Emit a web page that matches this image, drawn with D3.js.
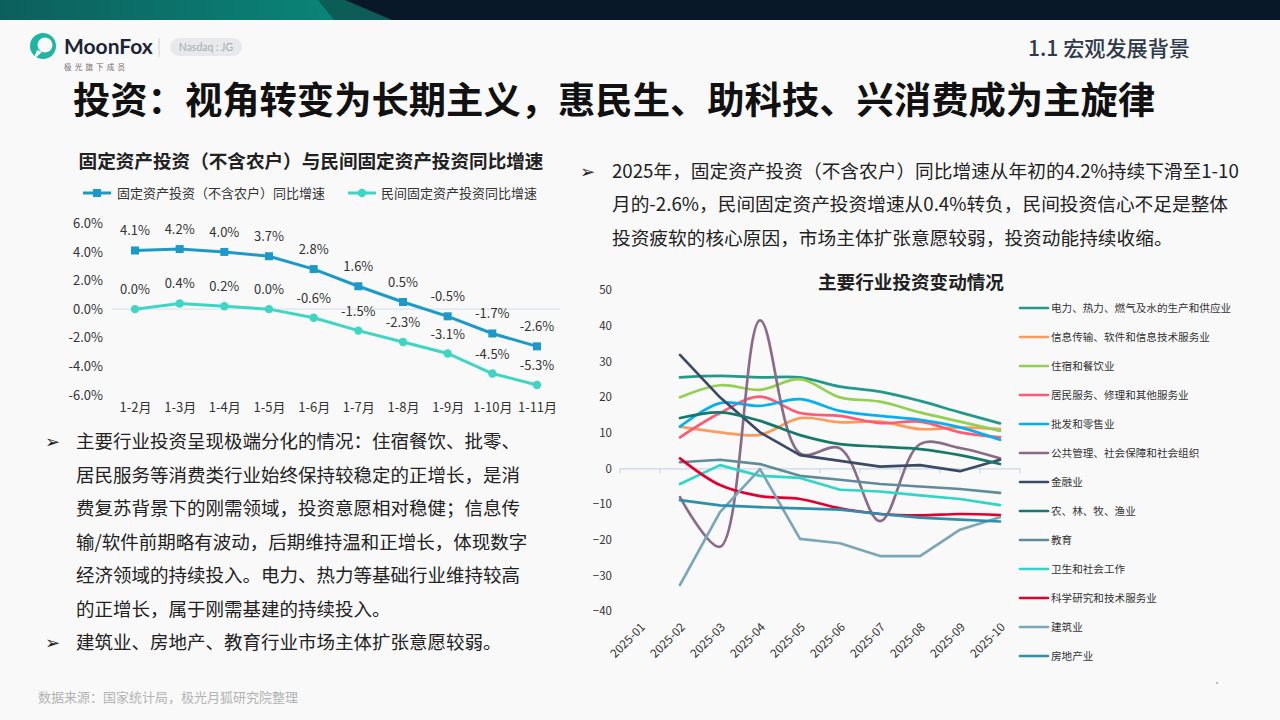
<!DOCTYPE html>
<html>
<head>
<meta charset="utf-8">
<script src="https://cdn.jsdelivr.net/npm/d3@7/dist/d3.min.js"></script>
<style>
  html,body{margin:0;padding:0;background:#f9f9f9;}
  svg{display:block;font-family:"Noto Sans CJK SC","Noto Sans",sans-serif;}
</style>
</head>
<body>
<svg id="page" width="1280" height="720"></svg>
<script>
// ---- left chart data ----
const periods = ["1-2月","1-3月","1-4月","1-5月","1-6月","1-7月","1-8月","1-9月","1-10月","1-11月"];
const fixedInvest = [4.1,4.2,4.0,3.7,2.8,1.6,0.5,-0.5,-1.7,-2.6];
const privateInvest = [0.0,0.4,0.2,0.0,-0.6,-1.5,-2.3,-3.1,-4.5,-5.3];
const leftTicks = [-6,-4,-2,0,2,4,6];

// ---- right chart data ----
const months = ["2025-01","2025-02","2025-03","2025-04","2025-05","2025-06","2025-07","2025-08","2025-09","2025-10"];
const industries = ["电力、热力、燃气及水的生产和供应业","信息传输、软件和信息技术服务业","住宿和餐饮业","居民服务、修理和其他服务业","批发和零售业","公共管理、社会保障和社会组织","金融业","农、林、牧、渔业","教育","卫生和社会工作","科学研究和技术服务业","建筑业","房地产业"];
// values from 2025-02 to 2025-10 (2025-01 is empty)
const power     = [25.5,25.9,25.5,25.5,22.9,21.5,18.9,15.7,12.6];
const infoTech  = [11.7,10.1,9.4,14.1,12.9,13.1,11.0,11.5,11.0];
const hotel     = [19.9,23.3,22.0,25.0,19.9,18.7,15.7,13.1,10.5];
const resident  = [8.7,15.5,20.1,15.5,14.7,12.7,13.1,10.1,8.7];
const retail    = [11.7,18.3,17.5,19.4,16.1,14.7,13.6,11.5,8.0];
const publicAdm = [-8.1,-22.0,41.5,4.2,5.6,-14.8,6.8,5.7,2.8];
const finance   = [31.8,19.9,10.1,3.7,2.1,0.5,0.9,-0.8,2.4];
const farming   = [14.1,15.7,13.3,9.3,6.8,6.1,5.4,3.7,1.2];
const education = [1.7,2.4,1.2,-2.1,-3.2,-4.4,-5.1,-5.8,-6.9];
const health    = [-4.4,0.9,-2.1,-2.7,-6.0,-6.5,-7.6,-8.6,-10.3];
const science   = [2.8,-4.7,-7.8,-8.6,-11.2,-12.8,-13.2,-12.8,-13.1];
const construct = [-32.7,-12.3,-0.2,-19.8,-21.0,-24.6,-24.6,-17.2,-13.7];
const realEstate= [-8.9,-10.4,-10.9,-11.2,-11.6,-12.8,-13.8,-14.4,-14.9];
const rightTicks = [-40,-30,-20,-10,0,10,20,30,40,50];

const seriesValues = [power,infoTech,hotel,resident,retail,publicAdm,finance,farming,education,health,science,construct,realEstate];
const seriesColors = ["#22998b","#ff9b5a","#92d050","#ff5a74","#05b0f0","#8a6c8a","#3b4a66","#17796b","#5f8b9c","#2dd6c7","#e10030","#7aa7b8","#2e8eab"];
const smoothSeries = new Set([0,1,2,3,4,5,7,10]);

const svg = d3.select("#page");
const defs = svg.append("defs");

// ---- header band ----
const g1 = defs.append("linearGradient").attr("id","topGrad").attr("x1","0").attr("x2","1");
g1.append("stop").attr("offset","0").attr("stop-color","#0c5f5d");
g1.append("stop").attr("offset","1").attr("stop-color","#0a8b7b");
svg.append("rect").attr("x",0).attr("y",0).attr("width",400).attr("height",20).attr("fill","url(#topGrad)");
svg.append("polygon").attr("points","318,0 350,0 398,20 334,20").attr("fill","#0b5d55");
svg.append("polygon").attr("points","345,0 1280,0 1280,20 392,20").attr("fill","#081828");

// ---- logo ----
const logo = svg.append("g");
logo.append("circle").attr("cx",43).attr("cy",46).attr("r",13).attr("fill","#1db5a3");
logo.append("circle").attr("cx",45).attr("cy",45).attr("r",7.5).attr("fill","#f9f9f9");
logo.append("path").attr("d","M37,50 L33,60 L42,52 Z").attr("fill","#f9f9f9");
logo.append("text").attr("x",64).attr("y",54).attr("font-size",21).attr("font-weight",700)
  .attr("font-family","Lato, 'Noto Sans', sans-serif").attr("fill","#1c2536").text("MoonFox");
logo.append("line").attr("x1",159).attr("x2",159).attr("y1",38).attr("y2",57).attr("stroke","#d0d0d0");
logo.append("rect").attr("x",170).attr("y",38).attr("width",72).attr("height",18).attr("rx",9).attr("fill","#e7e9eb");
logo.append("text").attr("x",206).attr("y",51).attr("text-anchor","middle").attr("font-size",10.5)
  .attr("font-family","Lato, 'Noto Sans', sans-serif").attr("fill","#a6abb0").text("Nasdaq : JG");
logo.append("text").attr("x",64).attr("y",70).attr("font-size",7.5).attr("letter-spacing",3.2).attr("fill","#6a6a6a").text("极光旗下成员");

svg.append("text").attr("x",1028).attr("y",56).attr("font-size",21).attr("font-weight",500)
  .attr("fill","#2f3a4b").attr("textLength",162).attr("lengthAdjust","spacingAndGlyphs").text("1.1 宏观发展背景");

svg.append("text").attr("x",73).attr("y",114).attr("font-size",37).attr("font-weight",700)
  .attr("fill","#111").attr("textLength",1082).attr("lengthAdjust","spacingAndGlyphs")
  .text("投资：视角转变为长期主义，惠民生、助科技、兴消费成为主旋律");

// ---- left chart ----
const L = svg.append("g");
L.append("text").attr("x",311).attr("y",168).attr("text-anchor","middle").attr("font-size",18.6).attr("font-weight",700)
  .attr("fill","#222").text("固定资产投资（不含农户）与民间固定资产投资同比增速");

const xL = d3.scalePoint().domain(periods).range([135,537]);
const yL = d3.scaleLinear().domain([-6,6]).range([395,223.3]);

L.append("line").attr("x1",112).attr("x2",560).attr("y1",yL(0)).attr("y2",yL(0)).attr("stroke","#d9e3ef").attr("stroke-width",1.2);

const yAxisL = L.append("g").attr("transform","translate(108,0)")
  .call(d3.axisLeft(yL).tickValues(leftTicks).tickFormat(d=>d.toFixed(1)+"%").tickSize(0).tickPadding(5));
yAxisL.select(".domain").remove();
yAxisL.selectAll("text").attr("font-size",13).attr("fill","#333").attr("font-family","'Noto Sans CJK SC',sans-serif");

const xAxisL = L.append("g").attr("transform","translate(0,397)")
  .call(d3.axisBottom(xL).tickSize(0).tickPadding(6));
xAxisL.select(".domain").remove();
xAxisL.selectAll("text").attr("font-size",13).attr("fill","#333").attr("font-family","'Noto Sans CJK SC',sans-serif");

const lineL = d3.line().x((d,i)=>xL(periods[i])).y(d=>yL(d));
const leftSeries = [
  {name:"固定资产投资（不含农户）同比增速",vals:fixedInvest,color:"#1b9ac9",marker:"square"},
  {name:"民间固定资产投资同比增速",vals:privateInvest,color:"#3fd5c5",marker:"circle"}
];
leftSeries.forEach(s=>{
  L.append("path").attr("d",lineL(s.vals)).attr("fill","none").attr("stroke",s.color).attr("stroke-width",3);
  s.vals.forEach((v,i)=>{
    const cx=xL(periods[i]), cy=yL(v);
    if(s.marker==="square") L.append("rect").attr("x",cx-4).attr("y",cy-4).attr("width",8).attr("height",8).attr("fill",s.color);
    else L.append("circle").attr("cx",cx).attr("cy",cy).attr("r",4.2).attr("fill",s.color);
    L.append("text").attr("x",cx).attr("y",cy-15).attr("text-anchor","middle").attr("font-size",13).attr("fill","#333")
      .text(v.toFixed(1)+"%");
  });
});
// left legend
[[83,117],[348,381]].forEach(([lx,tx],k)=>{
  const s=leftSeries[k], cy=193;
  L.append("line").attr("x1",lx).attr("x2",lx+28).attr("y1",cy).attr("y2",cy).attr("stroke",s.color).attr("stroke-width",3);
  if(s.marker==="square") L.append("rect").attr("x",lx+10).attr("y",cy-4).attr("width",8).attr("height",8).attr("fill",s.color);
  else L.append("circle").attr("cx",lx+14).attr("cy",cy).attr("r",4.2).attr("fill",s.color);
  L.append("text").attr("x",tx).attr("y",cy+4.5).attr("font-size",13).attr("fill","#333").text(s.name);
});

// ---- paragraphs ----
function para(lines,x,y0,step,size){
  lines.forEach((t,i)=>{
    svg.append("text").attr("x",x).attr("y",y0+i*step).attr("font-size",size).attr("fill","#222").text(t);
  });
}
const bullet=(x,y)=>svg.append("text").attr("x",x).attr("y",y).attr("font-size",18).attr("fill","#222")
  .attr("font-family","'DejaVu Sans',sans-serif").text("➢");

bullet(580,178);
para(["2025年，固定资产投资（不含农户）同比增速从年初的4.2%持续下滑至1-10",
      "月的-2.6%，民间固定资产投资增速从0.4%转负，民间投资信心不足是整体",
      "投资疲软的核心原因，市场主体扩张意愿较弱，投资动能持续收缩。"],612,178,33.3,18.7);

bullet(45,448);
para(["主要行业投资呈现极端分化的情况：住宿餐饮、批零、",
      "居民服务等消费类行业始终保持较稳定的正增长，是消",
      "费复苏背景下的刚需领域，投资意愿相对稳健；信息传",
      "输/软件前期略有波动，后期维持温和正增长，体现数字",
      "经济领域的持续投入。电力、热力等基础行业维持较高",
      "的正增长，属于刚需基建的持续投入。"],76,448,33.5,18.5);
bullet(45,649);
para(["建筑业、房地产、教育行业市场主体扩张意愿较弱。"],76,649,33.5,18.5);

svg.append("text").attr("x",38).attr("y",702).attr("font-size",13).attr("fill","#b3b3b3").text("数据来源：国家统计局，极光月狐研究院整理");

// ---- right chart ----
const R = svg.append("g");
R.append("text").attr("x",911).attr("y",289).attr("text-anchor","middle").attr("font-size",18.6).attr("font-weight",700)
  .attr("fill","#222").text("主要行业投资变动情况");

const xR = d3.scaleBand().domain(months).range([620,1020]);
const yR = d3.scaleLinear().domain([-40,50]).range([611,290]);

const yAxisR = R.append("g").attr("transform","translate(617,0)")
  .call(d3.axisLeft(yR).tickValues(rightTicks).tickSize(0).tickPadding(5));
yAxisR.select(".domain").remove();
yAxisR.selectAll("text").attr("font-size",11.5).attr("fill","#333").attr("font-family","'Noto Sans CJK SC',sans-serif");

const xAxisR = R.append("g").attr("transform",`translate(0,${yR(0)})`)
  .call(d3.axisBottom(xR).tickSize(0).tickFormat(""));
xAxisR.select(".domain").attr("stroke","#c9d8e8").attr("stroke-width",1.2);
xAxisR.selectAll(".tick").remove();
months.concat(["end"]).forEach((m,i)=>{
  const tx = i<months.length ? xR(m) : xR.range()[1];
  R.append("line").attr("x1",tx).attr("x2",tx).attr("y1",yR(0)).attr("y2",yR(0)+5).attr("stroke","#c9d8e8").attr("stroke-width",1.2);
});
months.forEach(m=>{
  const cx=xR(m)+xR.bandwidth()/2;
  R.append("text").attr("transform",`translate(${cx},${622}) rotate(-45)`).attr("text-anchor","end")
    .attr("font-size",11.8).attr("fill","#333").attr("dy","0.71em").text(m);
});

const dataMonths = months.slice(1);
seriesValues.forEach((vals,k)=>{
  const ln = d3.line().x((d,i)=>xR(dataMonths[i])+xR.bandwidth()/2).y(d=>yR(d))
    .curve(smoothSeries.has(k)?d3.curveCatmullRom.alpha(0.5):d3.curveLinear);
  R.append("path").attr("d",ln(vals)).attr("fill","none").attr("stroke",seriesColors[k])
    .attr("stroke-width",2.7).attr("stroke-linejoin","round").attr("stroke-linecap","round");
});

// right legend
industries.forEach((name,k)=>{
  const cy=308+k*29;
  R.append("line").attr("x1",1020).attr("x2",1048).attr("y1",cy).attr("y2",cy).attr("stroke",seriesColors[k])
    .attr("stroke-width",2.7).attr("stroke-linecap","round");
  R.append("text").attr("x",1051).attr("y",cy+4).attr("font-size",10.6).attr("fill","#333").text(name);
});

svg.append("circle").attr("cx",1217).attr("cy",683).attr("r",0.8).attr("fill","#666");
</script>
</body>
</html>
